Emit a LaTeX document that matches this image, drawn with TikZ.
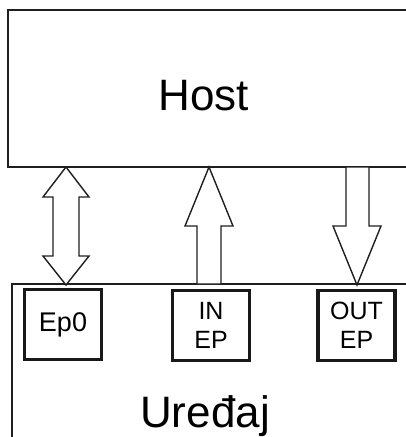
\documentclass[tikz,border=0pt]{standalone}
\usepackage{fontspec}
\setmainfont{Liberation Sans}
\begin{document}
\begin{tikzpicture}[x=1pt,y=-1pt,
  frame/.style={draw=black!88, line width=1.5pt},
  blockarrow/.style={draw=black!88, fill=white, line width=1.4pt, line join=miter},
  epbox/.style={draw=black!90, line width=3.3pt, minimum width=77pt, minimum height=70pt,
                inner sep=0pt, align=center, font=\fontsize{25}{29}\selectfont},
  bigtext/.style={font=\fontsize{44}{50}\selectfont, anchor=base, inner sep=0pt}]
\useasboundingbox (0,0) rectangle (406,437);
\begin{scope}
\clip (0,0) rectangle (406,437);
% host block, running off the right edge
\draw[frame] (8,10) rectangle (430,167);
\node[bigtext] (host) at (204,110) {Host};
% device block, running off the right and bottom edges
\draw[frame] (430,284) -- (12,284) -- (12,450);
\node[bigtext] (dev) at (205,427) {Uređaj};
% endpoints
\node[epbox, font=\fontsize{27}{29}\selectfont] (ep0) at (63,324.5) {Ep0};
\node[epbox] (inep) at (211,325.5) {IN\\EP};
\node[epbox] (outep) at (356.5,325.5) {OUT\\EP};
% control transfers: both directions
\draw[blockarrow] (66,167) -- (89,197) -- (79,197) -- (79,256) -- (89,256) -- (66,285)
  -- (43,256) -- (53,256) -- (53,197) -- (43,197) -- cycle;
% IN endpoint: device to host
\draw[blockarrow] (209,167) -- (233,226) -- (221,226) -- (221,284) -- (197,284)
  -- (197,226) -- (185,226) -- cycle;
% OUT endpoint: host to device
\draw[blockarrow] (346,167) -- (369,167) -- (369,226) -- (381,226) -- (357,285)
  -- (333,226) -- (346,226) -- cycle;
\end{scope}
\end{tikzpicture}
\end{document}
